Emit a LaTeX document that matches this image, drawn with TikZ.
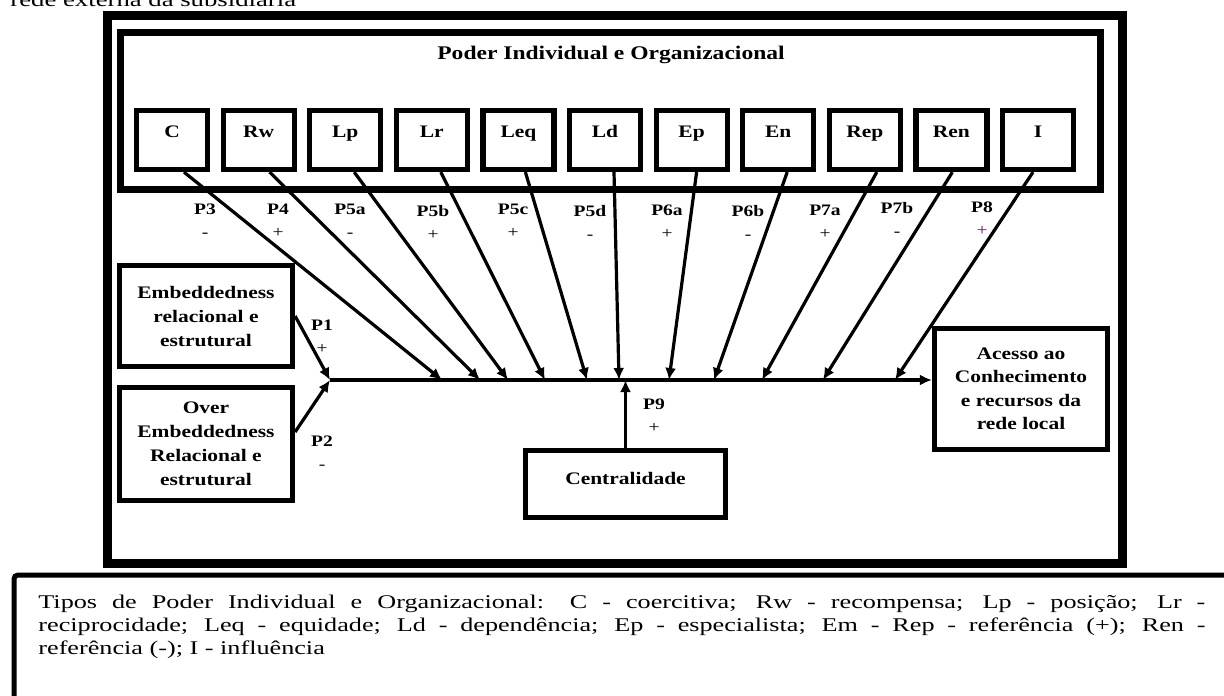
\documentclass[tikz,border=0pt]{standalone}
\usepackage{fontspec}
\setmainfont{Liberation Serif}[FakeStretch=1.22]
\newfontfamily\regfont{Liberation Serif}
\usepackage{tikz}
\usetikzlibrary{arrows.meta,calc}
% texto normal, alargado como na figura
\newcommand{\largo}[1]{\scalebox{1.35}[1]{#1}}

\begin{document}
\begin{tikzpicture}[x=0.5pt, y=-0.5pt,
  caixa/.style={draw, line width=2.6pt, fill=white, inner sep=0pt,
    font=\bfseries\fontsize{8.8}{12}\selectfont},
  poder/.style={caixa, minimum width=35.5pt, minimum height=29.5pt, text height=5.8pt, text depth=8pt},
  multi/.style={caixa, align=center, minimum width=86.5pt},
  seta/.style={line width=1.6pt, -{Latex[length=6pt, width=5.5pt]}},
  prop/.style={align=center, inner sep=0pt, font=\fontsize{8}{11.5}\selectfont},
  legenda/.style={anchor=base west, inner sep=0pt, font=\regfont\fontsize{9.7}{11.75}\selectfont}]
% Área da figura
\useasboundingbox (0,0) rectangle (1224,695);
\fill[white] (0,0) rectangle (1224,695);
\node[legenda, font=\regfont\fontsize{9.9}{12}\selectfont] (topo) at (10,7) {\largo{rede externa da subsidiaria}};

% Molduras
\draw[line width=4.5pt] (107,16) rectangle (1122,563);
\draw[line width=3.5pt] (120.5,32.5) rectangle (1100,189.5);
\node[font=\bfseries\fontsize{9.65}{12}\selectfont] (titulo) at (611,55) {Poder Individual e Organizacional};

% Tipos de poder
\foreach \tipo [count=\i from 0] in {C,Rw,Lp,Lr,Leq,Ld,Ep,En,Rep,Ren,I}
  \node[poder] (\tipo) at (172+86.6*\i,140) {\tipo};

% Caixas
\coordinate (J) at (330,380);
\node[multi, minimum height=50.5pt] (Emb) at (206,316) {Embeddedness\\relacional e\\estrutural};
\node[multi, minimum height=56.5pt] (Over) at (206,444) {Over\\Embeddedness\\Relacional e\\estrutural};
\node[multi, minimum height=60.5pt, font=\bfseries\fontsize{8.8}{11.75}\selectfont] (Acesso) at (1021,389) {Acesso ao\\Conhecimento\\e recursos da\\rede local};
\node[caixa, minimum width=100pt, minimum height=33.5pt, text height=6pt, text depth=6pt] (Cent) at (625.5,484) {Centralidade};

% Setas
\draw[seta] (Emb.east) -- (J);
\draw[seta] ($(Over.east)+(0,-12)$) -- (J);
\draw[seta] (J) -- (J -| Acesso.west);
\draw[seta] (Cent.north) -- (Cent.north |- J);
\foreach \tipo/\dx/\ponta in {C/12/442, Rw/11/480, Lp/9/508, Lr/9/545, Leq/7/587, Ld/9/619, Ep/5/669, En/9/714, Rep/12/762, Ren/1/823, I/-5/895} {
  \coordinate (t\tipo) at (\ponta,380);
  \draw[seta] ($(\tipo.south)+(\dx,0)$) -- (t\tipo);
}

% Proposições
\foreach \p/\s/\x/\y/\cor in {P1/+/322/337/black, P2/-/322/453/black, P9/+/654/416/black,
    P3/-/205/221/black, P4/+/278/221/black, P5a/-/350/221/black, P5b/+/433/222/black,
    P5c/+/513/221/black, P5d/-/590/222/black, P6a/+/667/222/black, P6b/-/748/222/black,
    P7a/+/825/222/black, P7b/-/897/219/black, P8/+/982/219/violet}
  \node[prop] (\p) at (\x,\y) {\textbf{\p}\\\textcolor{\cor}{\s}};

% Legenda
\draw[line width=2.5pt, rounded corners=2pt] (14,720) -- (14,575) -- (1240,575);
\node[legenda] (leg1) at (38,608) {\largo{\makebox[432.2pt][s]{Tipos de Poder Individual e Organizacional: C - coercitiva; Rw - recompensa; Lp - posição; Lr -}}};
\node[legenda] (leg2) at (38,631) {\largo{\makebox[432.2pt][s]{reciprocidade; Leq - equidade; Ld - dependência; Ep - especialista; Em - Rep - referência (+); Ren -}}};
\node[legenda] (leg3) at (38,654) {\largo{referência (-); I - influência}};
\end{tikzpicture}
\end{document}
